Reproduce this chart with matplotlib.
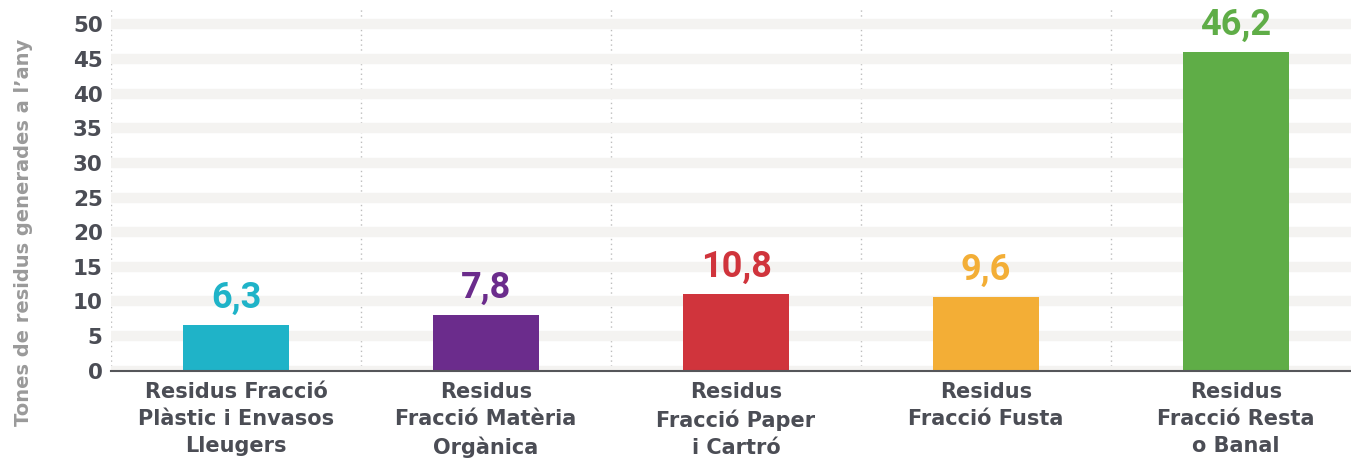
import matplotlib as mpl
mpl.use('Agg')
import matplotlib.pyplot as plt
import numpy as np

categories = ["Residus Fracció\nPlàstic i Envasos\nLleugers",
              "Residus\nFracció Matèria\nOrgànica",
              "Residus\nFracció Paper\ni Cartró",
              "Residus\nFracció Fusta",
              "Residus\nFracció Resta\no Banal"]
bar_heights = [6.6, 8.0, 11.1, 10.6, 46.0]
value_labels = ["6,3", "7,8", "10,8", "9,6", "46,2"]
colors = ["#1fb3c8", "#6b2c8c", "#d0343c", "#f3ae36", "#5fad47"]
yticks = [0, 5, 10, 15, 20, 25, 30, 35, 40, 45, 50]

text_col = "#4b4d55"

fig = plt.figure(figsize=(13.51, 4.61), dpi=100)
W, H = 1351, 461
ax = fig.add_axes([111 / W, 90.3 / H, 1250 / W, (370.7 - 7) / H])

x = np.arange(len(categories))
ax.bar(x, bar_heights, width=0.424, color=colors, zorder=3)

for xi, h, lab, c in zip(x, bar_heights, value_labels, colors):
    ax.annotate(lab, (xi, h), xytext=(0, 9), textcoords='offset pixels',
                ha='center', va='bottom', color=c, fontsize=26,
                fontweight='bold', family='Roboto')

ax.set_xlim(-0.5, len(categories) - 0.5)
ax.set_ylim(0, 52.5)
ax.set_yticks(yticks)
ax.set_yticklabels([str(t) for t in yticks], fontsize=15.5, fontweight='bold',
                   color=text_col)
ax.set_xticks(x)
ax.set_xticklabels(categories, fontsize=15, fontweight='bold', color=text_col,
                   linespacing=1.45)
ax.set_xticks(np.arange(len(categories)) - 0.5, minor=True)
ax.tick_params(axis='both', which='both', length=0)
ax.tick_params(axis='y', pad=6)
ax.tick_params(axis='x', pad=8)

ax.yaxis.grid(True, color='#f4f3f1', linewidth=7.5, zorder=0)
ax.xaxis.grid(True, which='minor', color='#bdbdbd', linestyle=(0, (1, 2.5)), linewidth=1.0)
ax.xaxis.grid(False, which='major')
ax.set_axisbelow(True)

for s in ['top', 'right', 'left']:
    ax.spines[s].set_visible(False)
ax.spines['bottom'].set_color('#55565a')
ax.spines['bottom'].set_linewidth(1.5)
ax.spines['bottom'].set_zorder(4)

ax.set_ylabel("Tones de residus generades a l’any", fontsize=14, fontweight='bold',
              color='#9a9a9a')
ax.yaxis.set_label_coords(-(111 - 33) / 1250, (370.7 - 232) / (370.7 - 7))

fig.savefig('out.png', dpi=100)
